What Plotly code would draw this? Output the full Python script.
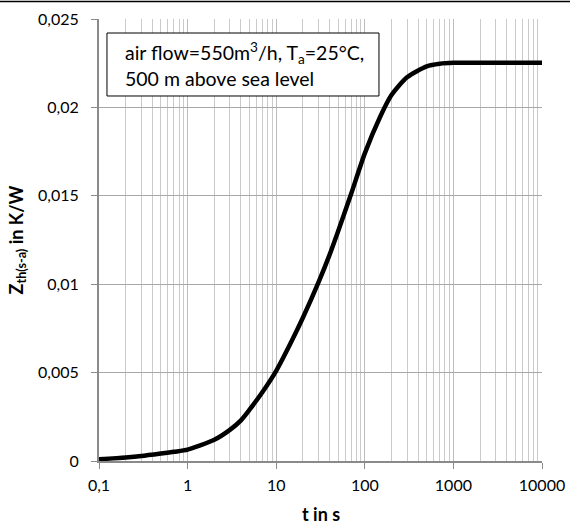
import plotly.graph_objects as go

t_s = [0.1, 0.2, 0.3, 0.5, 0.7, 1, 2, 3, 4, 5, 7, 10, 15, 20, 30, 40, 50, 70, 100, 150, 200, 300, 500, 700, 1000, 2000, 5000, 10000]
zth = [0.0001, 0.0002, 0.00028, 0.00042, 0.00052, 0.00064, 0.0012, 0.00176, 0.0023, 0.0029, 0.0039, 0.0051,
       0.0068, 0.0081, 0.0101, 0.01166, 0.0130, 0.0151, 0.0174, 0.0195, 0.0207, 0.0217, 0.02232, 0.02247,
       0.02252, 0.02252, 0.02252, 0.02252]

x_tickvals = [0.1, 1, 10, 100, 1000, 10000]
x_ticktext = ["0,1", "1", "10", "100", "1000", "10000"]
y_tickvals = [0, 0.005, 0.01, 0.015, 0.02, 0.025]
y_ticktext = ["0", "0,005", "0,01", "0,015", "0,02", "0,025"]

FONT = "Lato"

fig = go.Figure()
fig.add_trace(go.Scatter(x=t_s, y=zth, mode="lines",
                         line=dict(color="black", width=4.5, shape="spline", smoothing=0.7),
                         showlegend=False, hoverinfo="skip"))

fig.update_layout(
    width=570, height=524, autosize=False,
    margin=dict(l=99, r=28, t=19, b=63, autoexpand=False),
    paper_bgcolor="white", plot_bgcolor="white",
    font=dict(family=FONT, size=16, color="black"),
    xaxis=dict(type="log", range=[-1, 4], automargin=False,
               tickvals=x_tickvals, ticktext=x_ticktext,
               showgrid=True, gridcolor="#bdbdbd", gridwidth=1,
               minor=dict(dtick="D1", showgrid=True, gridcolor="#cacaca", gridwidth=1, ticks=""),
               showline=True, linecolor="#8a8a8a", linewidth=2,
               ticks="outside", ticklen=6, tickcolor="#8a8a8a", tickwidth=1,
               ticklabelstandoff=3,
               tickfont=dict(family=FONT, size=16, color="black"),
               zeroline=False),
    yaxis=dict(range=[0, 0.025], automargin=False,
               tickvals=y_tickvals, ticktext=y_ticktext,
               showgrid=True, gridcolor="#a8a8a8", gridwidth=1,
               showline=True, linecolor="#8a8a8a", linewidth=2,
               ticks="outside", ticklen=6, tickcolor="#8a8a8a", tickwidth=1,
               ticklabelstandoff=9,
               tickfont=dict(family=FONT, size=16, color="black"),
               zeroline=False,
               title=dict(text="<b>Z<sub>th(s-a)</sub> in K/W</b>", font=dict(family=FONT, size=18, color="black"), standoff=10)),
)

# x-axis title placed as text so it can sit as low as in the reference
fig.add_annotation(
    xref="paper", yref="paper", x=0.5, y=-0.119, xanchor="center", yanchor="middle",
    text="<b>t in s</b>", showarrow=False, borderpad=0,
    font=dict(family=FONT, size=18, color="black"),
)

fig.add_shape(type="rect", xref="paper", yref="paper",
              x0=0.018, x1=0.632, y0=0.8258, y1=0.9683,
              line=dict(color="black", width=1), fillcolor="white", layer="above")

fig.add_annotation(
    xref="paper", yref="paper", x=0.054, y=0.896, xanchor="left", yanchor="middle",
    text="air flow=550m<sup>3</sup>/h, T<sub>a</sub>=25°C,<br>500 m above sea level",
    align="left", showarrow=False,
    font=dict(family=FONT, size=19.5, color="black"),
)

fig.add_shape(type="line", xref="paper", yref="paper",
              x0=-0.25, x1=1.1, y0=1.0396, y1=1.0396,
              line=dict(color="black", width=1.5))

fig.write_html("out.html", config={"displayModeBar": False},
               post_script="document.body.style.margin='0px';")
